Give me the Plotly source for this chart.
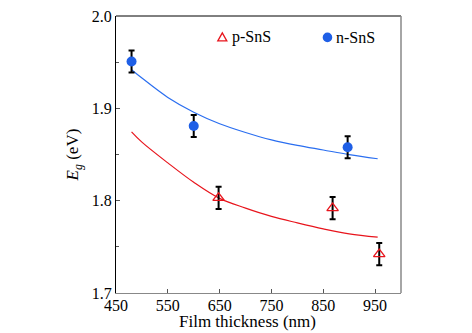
import plotly.graph_objects as go

# Measured data points
n_x = [480, 600, 897]
n_y = [1.951, 1.881, 1.858]
n_err = [0.012, 0.012, 0.012]

p_x = [648, 868, 958]
p_y = [1.803, 1.792, 1.742]
p_err = [0.012, 0.012, 0.012]

# Fitted curves
n_fit_x = [480, 500, 550, 600, 650, 700, 750, 800, 850, 900, 955]
n_fit_y = [1.942, 1.933, 1.912, 1.896, 1.8835, 1.874, 1.866, 1.860, 1.855, 1.850, 1.8455]
p_fit_x = [480, 500, 550, 600, 650, 700, 750, 800, 850, 900, 955]
p_fit_y = [1.8747, 1.8635, 1.841, 1.820, 1.8025, 1.792, 1.783, 1.776, 1.7695, 1.764, 1.7604]

x_ticks = [450, 550, 650, 750, 850, 950]
y_ticks = [1.7, 1.8, 1.9, 2.0]

FONT = "Liberation Serif, DejaVu Serif, serif"
BLUE = "#1f5fe6"
RED = "#e8141c"

fig = go.Figure()

fig.add_trace(go.Scatter(x=n_fit_x, y=n_fit_y, mode="lines", line=dict(color="#2a6ef0", width=1.2, shape="spline"),
                         showlegend=False, hoverinfo="skip"))
fig.add_trace(go.Scatter(x=p_fit_x, y=p_fit_y, mode="lines", line=dict(color=RED, width=1.2, shape="spline"),
                         showlegend=False, hoverinfo="skip"))

fig.add_trace(go.Scatter(x=p_x, y=p_y, mode="markers", name="p-SnS", showlegend=False,
                         marker=dict(symbol="triangle-up-open", size=10, color=RED, line=dict(width=1.3, color=RED)),
                         error_y=dict(type="data", array=p_err, color="black", thickness=2, width=3)))
fig.add_trace(go.Scatter(x=n_x, y=n_y, mode="markers", name="n-SnS", showlegend=False,
                         marker=dict(symbol="circle", size=10, color=BLUE),
                         error_y=dict(type="data", array=n_err, color="black", thickness=2, width=3)))

# Manual legend (symbol shapes + text) to match the reference spacing
LEG_Y = 0.9228
legend_shapes = [
    dict(type="path", xref="paper", yref="paper", xsizemode="pixel", ysizemode="pixel",
         xanchor=0.373, yanchor=LEG_Y, path="M -4.5 -3.5 L 4.5 -3.5 L 0 4.5 Z",
         line=dict(color=RED, width=1.3), fillcolor="rgba(0,0,0,0)"),
    dict(type="circle", xref="paper", yref="paper", xsizemode="pixel", ysizemode="pixel",
         xanchor=0.742, yanchor=LEG_Y, x0=-4.8, x1=4.8, y0=-4.8, y1=4.8,
         line=dict(color=BLUE, width=0), fillcolor=BLUE),
]
annotations = [
    dict(text="p-SnS", xref="paper", yref="paper", x=0.401, y=LEG_Y, xanchor="left", yanchor="middle",
         showarrow=False, font=dict(family=FONT, size=16, color="black")),
    dict(text="n-SnS", xref="paper", yref="paper", x=0.766, y=LEG_Y, xanchor="left", yanchor="middle",
         showarrow=False, font=dict(family=FONT, size=16, color="black")),
    dict(text="Film thickness (nm)", xref="paper", yref="paper", x=0.463, y=-0.104, xanchor="center",
         yanchor="middle", showarrow=False, borderpad=0, font=dict(family=FONT, size=17, color="black")),
]

fig.update_layout(
    width=472, height=333,
    margin=dict(l=116, r=71, t=8, b=40),
    paper_bgcolor="white", plot_bgcolor="white",
    font=dict(family=FONT, size=16, color="black"),
    showlegend=False,
    xaxis=dict(range=[450, 1000], tickvals=x_ticks, ticktext=[str(v) for v in x_ticks],
               showgrid=False, zeroline=False, showline=True, linecolor="#888888", linewidth=1,
               ticks="inside", ticklen=4, tickcolor="#555555", ticklabeloverflow="allow",
               ticklabelstandoff=-2,
               tickfont=dict(family=FONT, size=16)),
    yaxis=dict(range=[1.6999, 2.0003], tickvals=y_ticks, ticktext=["1.7", "1.8", "1.9", "2.0"],
               showgrid=False, zeroline=False, showline=True, linecolor="black", linewidth=1,
               ticks="inside", ticklen=4, tickcolor="#555555", ticklabeloverflow="allow",
               minor=dict(ticks="inside", ticklen=3, dtick=0.05, tickcolor="#555555"),
               tickfont=dict(family=FONT, size=16),
               title=dict(text="<i>E</i><sub><i>g</i></sub> (eV)", font=dict(family=FONT, size=17), standoff=8)),
    shapes=[
        dict(type="line", xref="paper", yref="paper", x0=0, x1=1, y0=1, y1=1, line=dict(color="black", width=1)),
        dict(type="line", xref="paper", yref="paper", x0=1, x1=1, y0=0, y1=1, line=dict(color="#888888", width=1.5)),
    ] + legend_shapes,
    annotations=annotations,
)

fig.write_html("out.html")
